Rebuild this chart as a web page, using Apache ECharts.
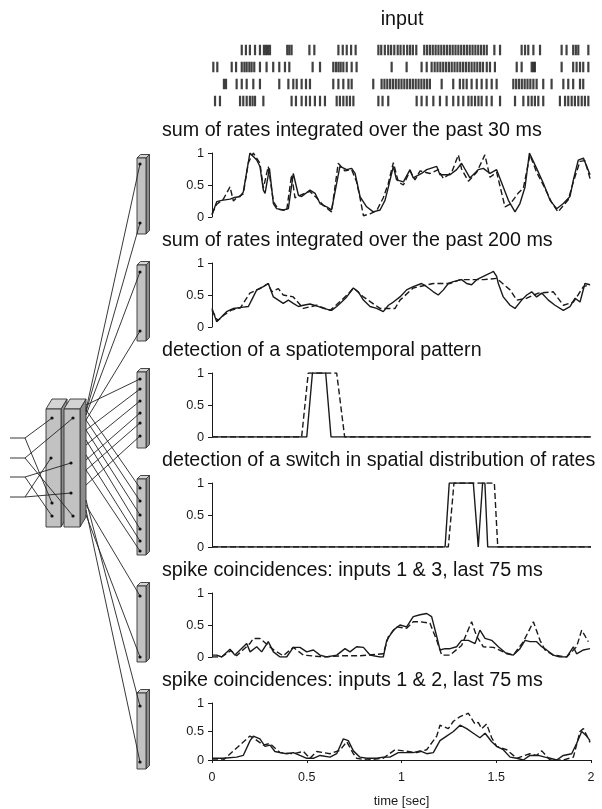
<!DOCTYPE html>
<html>
<head>
<meta charset="utf-8">
<script src="https://cdn.jsdelivr.net/npm/echarts@6/dist/echarts.min.js"></script>
<style>
  html, body { margin: 0; padding: 0; background: #fff; }
  #chart { width: 602px; height: 809px; }
</style>
</head>
<body>
<div id="chart"></div>
<script>
// ---------------- data ----------------
const xTicks = [0, 0.5, 1, 1.5, 2];      // time [sec]
const yTicks = [0, 0.5, 1];

// spike times (s) of the four input channels
const spikes1 = [0.157,0.179,0.200,0.227,0.253,0.274,0.285,0.295,0.306,0.397,0.408,0.420,0.514,0.540,0.667,0.690,0.711,0.734,0.758,
  0.878,0.893,0.912,0.930,0.945,0.962,0.980,0.995,1.012,1.030,1.045,1.060,1.078,1.120,1.135,1.150,1.165,1.180,1.195,1.210,1.225,
  1.240,1.255,1.270,1.285,1.300,1.315,1.330,1.345,1.360,1.375,1.390,1.405,1.420,1.435,1.450,1.490,1.520,
  1.634,1.652,1.669,1.696,1.731,1.845,1.871,1.906,1.920,1.933,1.986];
const spikes2 = [0.007,0.028,0.104,0.127,0.157,0.171,0.183,0.197,0.209,0.223,0.253,0.288,0.323,0.355,0.385,0.408,0.531,0.570,
  0.640,0.654,0.667,0.679,0.693,0.711,0.737,0.763,0.948,1.027,1.106,1.133,1.159,1.175,1.190,1.205,1.220,1.235,1.250,1.265,1.280,
  1.295,1.310,1.325,1.340,1.355,1.370,1.385,1.400,1.415,1.430,1.450,1.467,1.493,1.608,1.634,1.687,1.696,1.704,1.845,
  1.906,1.924,1.942,1.959,1.986];
const spikes3 = [0.063,0.074,0.130,0.157,0.183,0.218,0.253,0.355,0.403,0.429,0.447,0.473,0.496,0.517,0.640,0.667,0.693,0.720,0.737,
  0.851,0.895,0.910,0.925,0.940,0.955,0.970,0.985,1.000,1.015,1.030,1.045,1.060,1.075,1.090,1.105,1.120,1.135,1.150,
  1.212,1.273,1.308,1.326,1.344,1.370,1.397,1.423,1.449,1.476,1.502,1.590,1.605,1.620,1.635,1.650,1.665,1.680,1.696,
  1.713,1.748,1.792,1.854,1.880,1.906,1.942,1.959];
const spikes4 = [0.016,0.042,0.148,0.165,0.183,0.200,0.214,0.227,0.271,0.420,0.443,0.473,0.496,0.517,0.543,0.570,0.596,
  0.658,0.675,0.693,0.711,0.728,0.746,0.878,0.900,0.930,1.080,1.106,1.133,1.168,1.203,1.238,1.273,1.300,1.326,1.353,1.370,
  1.388,1.406,1.423,1.449,1.476,1.520,1.599,1.643,1.669,1.687,1.704,1.722,1.748,1.836,1.863,1.880,1.898,1.915,1.933,
  1.951,1.968,1.986];

const panelTitles = [
  'sum of rates integrated over the past 30 ms',
  'sum of rates integrated over the past 200 ms',
  'detection of a spatiotemporal pattern',
  'detection of a switch in spatial distribution of rates',
  'spike coincidences: inputs 1 & 3, last 75 ms',
  'spike coincidences: inputs 1 & 2, last 75 ms'
];

// [time s, value] — solid: target, dashed: readout
const rate30Target = [[0,0.03],[0.025,0.24],[0.051,0.26],[0.095,0.28],[0.113,0.30],[0.148,0.32],[0.165,0.39],[0.200,1.00],
  [0.236,0.89],[0.253,0.79],[0.271,0.42],[0.280,0.37],[0.303,0.76],[0.324,0.21],[0.341,0.13],[0.376,0.11],[0.403,0.13],
  [0.429,0.68],[0.456,0.34],[0.473,0.32],[0.517,0.42],[0.544,0.37],[0.570,0.21],[0.605,0.16],[0.631,0.11],[0.675,0.79],
  [0.711,0.74],[0.737,0.76],[0.755,0.68],[0.781,0.32],[0.816,0.16],[0.851,0.08],[0.887,0.11],[0.913,0.26],[0.931,0.47],
  [0.957,0.79],[0.974,0.58],[1.010,0.55],[1.045,0.74],[1.062,0.61],[1.106,0.68],[1.133,0.74],[1.186,0.79],[1.203,0.66],
  [1.256,0.66],[1.291,0.74],[1.317,0.84],[1.361,0.61],[1.405,0.74],[1.432,0.76],[1.467,0.68],[1.502,0.74],[1.537,0.47],
  [1.564,0.26],[1.599,0.08],[1.625,0.21],[1.652,0.47],[1.675,1.00],[1.713,0.76],[1.748,0.53],[1.784,0.26],[1.819,0.13],
  [1.854,0.21],[1.889,0.32],[1.907,0.58],[1.933,0.89],[1.960,0.92],[1.995,0.66]];
const rate30Readout = [[0,0.05],[0.025,0.20],[0.060,0.28],[0.095,0.47],[0.113,0.25],[0.130,0.30],[0.165,0.36],[0.192,0.85],
  [0.218,1.00],[0.253,0.84],[0.271,0.45],[0.297,0.79],[0.324,0.24],[0.350,0.12],[0.394,0.10],[0.420,0.66],[0.438,0.30],
  [0.473,0.35],[0.517,0.40],[0.552,0.30],[0.588,0.18],[0.631,0.08],[0.666,0.84],[0.702,0.72],[0.737,0.74],[0.763,0.55],
  [0.781,0.30],[0.799,0.02],[0.834,0.05],[0.869,0.10],[0.904,0.30],[0.930,0.52],[0.957,0.85],[0.983,0.55],[1.010,0.50],
  [1.045,0.72],[1.071,0.58],[1.098,0.72],[1.150,0.68],[1.194,0.74],[1.221,0.60],[1.265,0.70],[1.300,0.97],[1.317,0.75],
  [1.353,0.56],[1.397,0.70],[1.440,0.97],[1.467,0.62],[1.502,0.70],[1.546,0.16],[1.573,0.20],[1.615,0.37],[1.643,0.45],
  [1.678,0.97],[1.713,0.70],[1.757,0.45],[1.790,0.24],[1.826,0.08],[1.880,0.27],[1.907,0.55],[1.942,0.87],[1.968,0.88],
  [1.995,0.60]];

const rate200Target = [[0,0.29],[0.025,0.08],[0.051,0.16],[0.077,0.24],[0.113,0.29],[0.165,0.31],[0.192,0.32],[0.209,0.42],
  [0.236,0.58],[0.271,0.63],[0.297,0.68],[0.324,0.47],[0.350,0.42],[0.376,0.37],[0.403,0.42],[0.429,0.37],[0.456,0.32],
  [0.482,0.34],[0.517,0.36],[0.552,0.33],[0.588,0.29],[0.631,0.26],[0.658,0.32],[0.684,0.39],[0.711,0.47],[0.746,0.61],
  [0.772,0.55],[0.799,0.42],[0.834,0.32],[0.869,0.29],[0.904,0.24],[0.931,0.34],[0.957,0.39],[0.992,0.47],[1.027,0.58],
  [1.062,0.63],[1.106,0.68],[1.133,0.63],[1.168,0.55],[1.194,0.50],[1.221,0.58],[1.247,0.68],[1.274,0.71],[1.317,0.74],
  [1.344,0.68],[1.370,0.66],[1.397,0.74],[1.432,0.79],[1.467,0.84],[1.485,0.87],[1.502,0.79],[1.511,0.68],[1.537,0.47],
  [1.573,0.34],[1.599,0.29],[1.634,0.42],[1.661,0.50],[1.687,0.55],[1.713,0.47],[1.740,0.53],[1.775,0.42],[1.810,0.34],
  [1.854,0.26],[1.889,0.32],[1.916,0.45],[1.942,0.39],[1.968,0.68],[1.995,0.66]];
const rate200Readout = [[0,0.26],[0.030,0.10],[0.060,0.18],[0.100,0.26],[0.150,0.30],[0.200,0.53],[0.253,0.60],[0.297,0.68],
  [0.315,0.55],[0.350,0.60],[0.376,0.50],[0.429,0.47],[0.482,0.29],[0.552,0.34],[0.623,0.26],[0.658,0.35],[0.720,0.52],
  [0.746,0.61],[0.799,0.47],[0.887,0.29],[0.966,0.29],[0.992,0.42],[1.062,0.61],[1.168,0.68],[1.256,0.68],[1.309,0.74],
  [1.361,0.74],[1.432,0.74],[1.502,0.76],[1.573,0.58],[1.608,0.42],[1.661,0.45],[1.722,0.53],[1.801,0.55],[1.854,0.34],
  [1.907,0.39],[1.960,0.63],[1.995,0.66]];

const patternTarget  = [[0,0],[0.500,0],[0.530,1],[0.600,1],[0.628,0],[2,0]];
const patternReadout = [[0,0],[0.473,0],[0.508,1],[0.658,1],[0.700,0],[2,0]];

const switchTarget  = [[0,0],[1.230,0],[1.252,1],[1.379,1],[1.405,0],[1.428,1],[1.440,1],[1.455,0],[2,0]];
const switchReadout = [[0,0],[1.247,0],[1.277,1],[1.490,1],[1.508,0],[2,0]];

const coinc13Target = [[0,0.03],[0.025,0.03],[0.051,0],[0.095,0.12],[0.121,0.03],[0.148,0.11],[0.183,0.21],[0.201,0.08],
  [0.236,0.16],[0.262,0.08],[0.297,0.24],[0.324,0.08],[0.359,0],[0.394,0],[0.429,0.15],[0.464,0.15],[0.500,0.08],
  [0.535,0.11],[0.570,0.03],[0.605,0],[0.658,0.03],[0.702,0.13],[0.728,0.08],[0.763,0.16],[0.799,0.15],[0.834,0.03],
  [0.887,0],[0.904,0],[0.922,0.26],[0.957,0.42],[0.992,0.50],[1.027,0.47],[1.062,0.63],[1.098,0.66],[1.133,0.68],
  [1.159,0.63],[1.186,0.32],[1.203,0.11],[1.230,0.13],[1.256,0.13],[1.291,0.16],[1.317,0.26],[1.353,0.26],[1.388,0.21],
  [1.414,0.42],[1.441,0.29],[1.476,0.26],[1.511,0.16],[1.555,0.05],[1.590,0.03],[1.625,0.13],[1.652,0.26],[1.678,0.24],
  [1.713,0.24],[1.740,0.16],[1.766,0.11],[1.801,0.03],[1.836,0],[1.872,0],[1.907,0.16],[1.924,0.05],[1.960,0.11],
  [1.995,0.13]];
const coinc13Readout = [[0,0],[0.050,0],[0.100,0.10],[0.130,0.02],[0.160,0.10],[0.200,0.21],[0.218,0.29],[0.253,0.29],
  [0.297,0.18],[0.330,0.10],[0.376,0.02],[0.429,0.15],[0.482,0.03],[0.588,0],[0.693,0.02],[0.781,0.02],[0.904,0.05],
  [0.931,0.32],[0.974,0.47],[1.027,0.45],[1.062,0.55],[1.098,0.55],[1.150,0.53],[1.186,0.26],[1.212,0.03],[1.256,0.03],
  [1.317,0.18],[1.370,0.55],[1.397,0.32],[1.432,0.16],[1.485,0.15],[1.537,0.08],[1.590,0.03],[1.643,0.24],[1.696,0.55],
  [1.731,0.26],[1.757,0.11],[1.801,0.03],[1.872,0],[1.924,0.16],[1.951,0.42],[1.986,0.24]];

const coinc12Target = [[0,0.03],[0.060,0.03],[0.130,0.05],[0.165,0.08],[0.201,0.34],[0.218,0.42],[0.253,0.37],[0.280,0.24],
  [0.306,0.26],[0.332,0.15],[0.359,0.13],[0.394,0.11],[0.429,0.13],[0.464,0.08],[0.500,0.03],[0.535,0.03],[0.570,0.08],
  [0.623,0.05],[0.658,0.11],[0.693,0.37],[0.719,0.34],[0.746,0.16],[0.781,0.05],[0.816,0.03],[0.869,0.03],[0.904,0.05],
  [0.939,0.05],[0.983,0.13],[1.010,0.13],[1.062,0.13],[1.098,0.16],[1.133,0.11],[1.168,0.13],[1.203,0.34],[1.238,0.42],
  [1.274,0.50],[1.309,0.61],[1.344,0.55],[1.379,0.47],[1.414,0.39],[1.441,0.47],[1.476,0.32],[1.502,0.24],[1.537,0.18],
  [1.573,0.05],[1.608,0.03],[1.643,0],[1.678,0.08],[1.722,0.08],[1.757,0.05],[1.784,0.03],[1.819,0],[1.854,0.08],
  [1.898,0.11],[1.924,0.29],[1.951,0.50],[1.977,0.42],[1.995,0.34]];
const coinc12Readout = [[0,0],[0.060,0],[0.200,0.42],[0.218,0.39],[0.271,0.26],[0.306,0.29],[0.359,0.13],[0.429,0.11],
  [0.482,0.15],[0.517,0.03],[0.552,0.15],[0.623,0.11],[0.675,0.17],[0.711,0.32],[0.746,0.11],[0.763,0.03],[0.816,0],
  [0.904,0.03],[0.966,0.18],[1.010,0.16],[1.080,0.13],[1.133,0.18],[1.186,0.42],[1.203,0.61],[1.247,0.55],[1.274,0.68],
  [1.309,0.76],[1.353,0.82],[1.388,0.63],[1.405,0.66],[1.423,0.55],[1.449,0.63],[1.476,0.39],[1.502,0.24],[1.555,0.18],
  [1.608,0.03],[1.678,0.11],[1.713,0.08],[1.740,0.16],[1.784,0],[1.854,0],[1.907,0.05],[1.942,0.50],[1.960,0.55],
  [1.995,0.31]];

const spikeTrains = [spikes1, spikes2, spikes3, spikes4];
const panels = [
  [rate30Target, rate30Readout],
  [rate200Target, rate200Readout],
  [patternTarget, patternReadout],
  [switchTarget, switchReadout],
  [coinc13Target, coinc13Readout],
  [coinc12Target, coinc12Readout]
];

// ---------------- layout & style ----------------
const FONT = '"Liberation Sans", Arial, Helvetica, sans-serif';
const INK = '#1a1a1a';
const PLOT_LEFT = 212, PLOT_RIGHT = 11;
const panelTops = [153, 263, 373, 483, 593, 703];
const PANEL_H = 64;
const TITLE_FONT = '19.7px ' + FONT;

const grids = [], xAxes = [], yAxes = [], series = [];

// raster of input spikes
grids.push({ left: PLOT_LEFT, right: PLOT_RIGHT, top: 41.5, height: 68 });
xAxes.push({ gridIndex: 0, type: 'value', min: xTicks[0], max: xTicks[xTicks.length - 1], show: false });
yAxes.push({ gridIndex: 0, type: 'value', min: 0, max: spikeTrains.length, inverse: true, show: false });
spikeTrains.forEach((train, r) => {
  series.push({
    type: 'scatter', xAxisIndex: 0, yAxisIndex: 0, symbol: 'rect', symbolSize: [2.2, 10.5],
    itemStyle: { color: '#111' }, silent: true,
    data: train.map(t => [t, r + 0.5])
  });
});

panels.forEach(([target, readout], i) => {
  const g = i + 1;
  const last = i === panels.length - 1;
  grids.push({ left: PLOT_LEFT, right: PLOT_RIGHT, top: panelTops[i], height: PANEL_H });
  xAxes.push({
    gridIndex: g, type: 'value', min: xTicks[0], max: xTicks[xTicks.length - 1],
    interval: xTicks[1] - xTicks[0], show: last,
    name: last ? 'time [sec]' : '', nameLocation: 'middle', nameGap: 35,
    nameTextStyle: { fontFamily: FONT, fontSize: 13, color: INK },
    axisLine: { lineStyle: { color: INK, width: 1 } },
    axisTick: { length: 3, lineStyle: { color: INK } },
    axisLabel: { fontFamily: FONT, fontSize: 12.5, color: INK, margin: 11 },
    splitLine: { show: false }
  });
  yAxes.push({
    gridIndex: g, type: 'value', min: yTicks[0], max: yTicks[yTicks.length - 1],
    interval: yTicks[1] - yTicks[0],
    axisLine: { show: true, lineStyle: { color: INK, width: 1 } },
    axisTick: { show: true, length: 4, lineStyle: { color: INK } },
    axisLabel: { fontFamily: FONT, fontSize: 12.8, color: INK, margin: 8 },
    splitLine: { show: false }
  });
  series.push({
    type: 'line', xAxisIndex: g, yAxisIndex: g, data: readout, showSymbol: false, silent: true,
    lineStyle: { color: INK, width: 1.4, type: [6, 3] }
  });
  series.push({
    type: 'line', xAxisIndex: g, yAxisIndex: g, data: target, showSymbol: false, silent: true,
    lineStyle: { color: INK, width: 1.4 }
  });
});

// ---------------- network sketch ----------------
const graphics = [];
function block(x, y, w, h, dx, dy) {
  const stroke = { stroke: '#333', lineWidth: 0.9 };
  graphics.push({ type: 'polygon', z: 1, shape: { points: [[x + w, y], [x + w + dx, y - dy], [x + w + dx, y + h - dy], [x + w, y + h]] }, style: Object.assign({ fill: '#8c8c8c' }, stroke) });
  graphics.push({ type: 'polygon', z: 1, shape: { points: [[x, y], [x + dx, y - dy], [x + w + dx, y - dy], [x + w, y]] }, style: Object.assign({ fill: '#d4d4d4' }, stroke) });
  graphics.push({ type: 'rect', z: 1, shape: { x: x, y: y, width: w, height: h }, style: Object.assign({ fill: '#c2c2c2' }, stroke) });
}
function wire(x1, y1, x2, y2) {
  graphics.push({ type: 'line', z: 2, shape: { x1, y1, x2, y2 }, style: { stroke: '#222', lineWidth: 0.9 } });
}
function dot(x, y) {
  graphics.push({ type: 'circle', z: 3, shape: { cx: x, cy: y, r: 1.6 }, style: { fill: '#111' } });
}

// readout modules
const readoutTops = [158, 265, 372, 479, 586, 693];
const readoutDots = [[164, 223], [272, 331], [379, 389, 401, 413, 423, 436], [488, 501, 515, 529, 541, 551], [596, 657], [706, 762]];
const wireStarts  = [[410, 412], [415, 420], [405, 430, 445, 460, 470, 485], [410, 420, 430, 440, 455, 470], [505, 515], [500, 510]];
const DOT_X = 140;

// liquid columns
const colL = { x: 46, w: 15 }, colR = { x: 64, w: 16 };
const COL_TOP = 409, COL_H = 118, COL_DX = 6, COL_DY = 10;
block(colL.x, COL_TOP, colL.w, COL_H, COL_DX, COL_DY);
block(colR.x, COL_TOP, colR.w, COL_H, COL_DX, COL_DY);
readoutTops.forEach(t => block(137, t, 9, 76, 3.5, 3.5));

const colDotsL = [[52, 418], [51, 458], [52, 503], [52, 516]];
const colDotsR = [[73, 418], [71, 463], [71, 493], [73, 516]];
const inputYs = [438, 458, 477, 497];
const inputTargets = [[colDotsL[0], colDotsL[2]], [colDotsR[0], colDotsR[3]], [colDotsR[1], colDotsL[3]], [colDotsL[1], colDotsR[2]]];
inputYs.forEach((y, k) => {
  wire(10, y, 25, y);
  inputTargets[k].forEach(p => wire(25, y, p[0], p[1]));
});
colDotsL.concat(colDotsR).forEach(p => dot(p[0], p[1]));

const SIDE_X = colR.x + colR.w + COL_DX;
readoutDots.forEach((ys, b) => {
  ys.forEach((y, k) => {
    wire(SIDE_X, wireStarts[b][k], DOT_X, y);
    dot(DOT_X, y);
  });
});

// titles
graphics.push({ type: 'text', z: 5, style: { x: 402, y: 20, text: 'input', font: TITLE_FONT, fill: '#111', align: 'center', verticalAlign: 'middle', textAlign: 'center', textVerticalAlign: 'middle' } });
panelTitles.forEach((txt, i) => {
  graphics.push({ type: 'text', z: 5, style: { x: 162, y: panelTops[i] - 22, text: txt, font: TITLE_FONT, fill: '#111', align: 'left', verticalAlign: 'middle', textAlign: 'left', textVerticalAlign: 'middle' } });
});

const chart = echarts.init(document.getElementById('chart'), null, { renderer: 'canvas' });
chart.setOption({
  backgroundColor: '#ffffff',
  animation: false,
  grid: grids,
  xAxis: xAxes,
  yAxis: yAxes,
  series: series,
  graphic: graphics
});
</script>
</body>
</html>
